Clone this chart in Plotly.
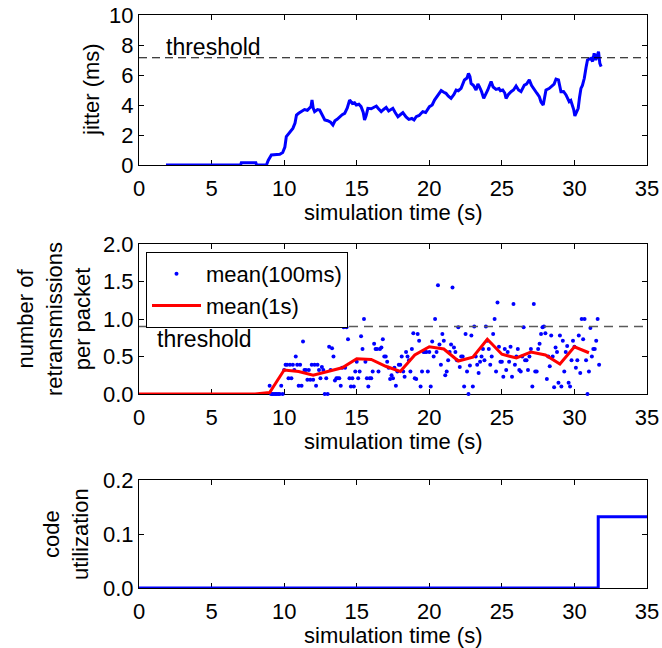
import plotly.graph_objects as go

# ---------------- data ----------------
# jitter (ms) vs simulation time (s)
jitter_t = [1.86, 7.0, 7.05, 8.05, 8.1, 8.78, 8.9, 9.12, 9.5, 9.7, 9.9, 10.05, 10.15, 10.4, 10.6, 10.75,
            10.85, 11.0, 11.2, 11.4, 11.6, 11.76, 11.85, 11.92, 12.0, 12.1, 12.3, 12.45, 12.6, 12.8,
            13.0, 13.2, 13.36, 13.5, 13.65, 13.82, 14.0, 14.17, 14.35, 14.51, 14.7, 14.85, 14.97,
            15.15, 15.3, 15.45, 15.54, 15.65, 15.77, 16.0, 16.2, 16.35, 16.5, 16.69, 16.85, 17.03,
            17.2, 17.35, 17.49, 17.65, 17.84, 18.0, 18.18, 18.4, 18.59, 18.8, 18.95, 19.1, 19.3,
            19.55, 19.75, 20.01, 20.2, 20.36, 20.55, 20.82, 21.0, 21.15, 21.3, 21.5, 21.7, 21.85,
            22.0, 22.19, 22.42, 22.6, 22.7, 22.8, 22.88, 23.05, 23.22, 23.35, 23.45, 23.6, 23.75,
            23.9, 24.03, 24.15, 24.26, 24.4, 24.6, 24.8, 24.9, 25.06, 25.2, 25.29, 25.45, 25.63,
            25.8, 25.98, 26.15, 26.32, 26.45, 26.55, 26.7, 26.89, 27.05, 27.24, 27.4, 27.58, 27.7,
            27.85, 27.95, 28.04, 28.25, 28.5, 28.6, 28.73, 28.9, 29.07, 29.25, 29.42, 29.55, 29.64,
            29.75, 29.87, 29.95, 30.03, 30.15, 30.26, 30.35, 30.45, 30.55, 30.68, 30.8, 30.9, 31.0,
            31.13, 31.25, 31.36, 31.47, 31.55, 31.66, 31.75, 31.84]
jitter_v = [0.0, 0.0, 0.15, 0.15, 0.0, 0.0, 0.3, 0.67, 0.7, 0.72, 0.83, 1.2, 1.89, 2.2, 2.44, 2.8,
            3.33, 3.45, 3.56, 3.7, 3.65, 3.78, 3.9, 4.33, 3.8, 3.56, 3.7, 3.67, 3.4, 3.0,
            2.95, 2.85, 2.67, 2.95, 3.05, 3.22, 3.35, 3.44, 3.8, 4.33, 4.1, 4.15, 4.0,
            4.05, 3.89, 3.5, 3.0, 3.3, 3.78, 3.75, 3.85, 3.93, 3.75, 3.56, 3.7, 3.84,
            3.6, 3.7, 3.78, 3.5, 3.22, 3.35, 3.49, 3.2, 3.04, 3.1, 3.0, 3.22, 3.3,
            3.56, 3.5, 3.89, 4.0, 4.33, 4.6, 4.96, 4.85, 4.78, 4.6, 4.44, 4.7, 5.0,
            4.95, 5.11, 5.67, 5.8, 6.11, 5.9, 5.44, 5.3, 5.0, 5.4, 5.22, 4.9, 4.44,
            4.7, 5.0, 5.3, 5.56, 5.2, 5.04, 5.1, 4.95, 5.0, 4.8, 4.44, 4.7, 4.89,
            5.0, 5.27, 5.0, 4.89, 5.1, 5.33, 5.4, 5.67, 5.3, 5.0, 4.8, 4.56, 4.2,
            4.0, 4.5, 5.0, 5.1, 5.33, 5.4, 5.73, 5.67, 4.89, 4.9, 4.67, 4.4, 4.22,
            4.3, 4.0, 3.7, 3.27, 3.5, 3.78, 4.5, 5.11, 5.3, 5.78, 6.5, 7.0, 7.05,
            7.11, 6.9, 7.44, 7.0, 7.3, 7.56, 6.78, 6.56]
jitter_threshold = 7.15

# retransmissions per packet: mean over 100 ms windows, first window at 9.0 s, one every 0.1 s
dots_start = 9.0
dots_step = 0.1
dots_100ms = [
    0.11, 0.0, 0.0, 0.0, 0.0, 0.0, 0.0, 0.0, 0.11, 0.0,          # 9 s
    0.32, 0.39, 0.39, 0.21, 0.39, 0.21, 0.39, 0.32, 0.5, 0.39,   # 10 s
    0.11, 0.39, 0.11, 0.7, 0.32, 0.32, 0.19, 0.32, 0.19, 0.39,   # 11 s
    0.19, 0.39, 0.11, 0.39, 0.32, 0.21, 0.36, 0.32, 0.0, 0.21,   # 12 s
    0.0, 0.63, 0.32, 0.61, 0.5, 0.18, 0.21, 0.21, 0.21, 0.11,    # 13 s
    0.35, 0.89, 0.35, 0.89, 0.73, 0.21, 0.1, 0.21, 0.1, 0.3,     # 14 s
    0.43, 0.21, 0.3, 0.77, 0.6, 1.0, 0.43, 0.21, 0.1, 0.21,      # 15 s
    0.21, 0.3, 0.67, 0.6, 0.6, 0.3, 0.6, 0.62, 0.73, 0.5,        # 16 s
    0.5, 0.43, 0.35, 0.2, 0.25, 0.21, 0.35, 0.11, 0.3, 0.39,     # 17 s
    0.39, 0.5, 0.3, 0.23, 0.56, 0.5, 0.45, 0.3, 0.6, 0.81,       # 18 s
    0.21, 0.2, 0.8, 0.71, 0.1, 0.3, 0.56, 0.56, 0.56, 0.3,       # 19 s
    0.56, 0.1, 0.7, 0.5, 1.0, 0.56, 1.45, 0.66, 0.39, 0.8,       # 20 s
    0.71, 0.25, 0.3, 0.45, 0.56, 0.66, 1.42, 0.62, 0.56, 0.45,   # 21 s
    0.89, 0.36, 0.5, 0.5, 0.1, 0.8, 0.3, 0.0, 0.38, 0.78,        # 22 s
    0.1, 0.9, 0.5, 0.39, 0.28, 0.43, 0.5, 0.6, 0.45, 0.9,        # 23 s
    0.71, 0.6, 0.39, 0.5, 0.8, 1.0, 0.3, 1.22, 0.63, 0.43,       # 24 s
    0.43, 0.23, 0.6, 0.32, 0.56, 0.43, 0.63, 0.23, 1.2, 0.39,    # 25 s
    0.5, 0.6, 0.32, 0.3, 0.5, 0.89, 0.45, 0.45, 0.32, 0.5,       # 26 s
    0.6, 0.1, 1.2, 0.3, 0.3, 0.6, 0.67, 0.8, 0.89, 0.9,          # 27 s
    0.81, 0.2, 0.5, 0.37, 0.78, 0.5, 0.09, 0.62, 0.56, 0.15,     # 28 s
    0.78, 0.1, 0.71, 0.3, 0.56, 0.64, 0.15, 0.1, 0.45, 0.71,     # 29 s
    0.63, 0.35, 0.45, 0.78, 0.28, 1.0, 0.73, 1.0, 0.45, 0.0,     # 30 s
    0.3, 0.88, 0.5, 0.6, 0.6, 0.71, 1.0, 0.39,                   # 31 s
]
dots_t = [round(dots_start + dots_step * i, 1) for i in range(len(dots_100ms))]

mean1s_t = [0, 1, 2, 3, 4, 5, 6, 7, 8, 9, 10, 11, 12, 13, 14, 15, 16, 17, 18, 19, 20,
            21, 22, 23, 24, 25, 26, 27, 28, 29, 30, 31]
mean1s_v = [0, 0, 0, 0, 0, 0, 0, 0, 0, 0.02, 0.32, 0.30, 0.25, 0.30, 0.35, 0.47, 0.46,
            0.37, 0.30, 0.52, 0.63, 0.60, 0.44, 0.49, 0.73, 0.53, 0.48, 0.56, 0.52, 0.40,
            0.63, 0.55]
retrans_threshold = 0.9

# code utilization (step)
util_t = [0, 31.64, 35]
util_v = [0, 0.132, 0.132]

x_ticks = [0, 5, 10, 15, 20, 25, 30, 35]

# ---------------- figure ----------------
FONT = "Liberation Sans, Arial, Helvetica, sans-serif"
TICK_SIZE = 22
TITLE_SIZE = 22
BLUE = "#0000ff"
RED = "#ff0000"

fig = go.Figure()

fig.add_trace(go.Scatter(x=jitter_t, y=jitter_v, mode="lines",
                         line=dict(color=BLUE, width=3), showlegend=False,
                         xaxis="x", yaxis="y"))

fig.add_trace(go.Scatter(x=dots_t, y=dots_100ms, mode="markers", name="mean(100ms)",
                         marker=dict(color=BLUE, size=4), cliponaxis=False,
                         xaxis="x2", yaxis="y2"))
fig.add_trace(go.Scatter(x=mean1s_t, y=mean1s_v, mode="lines", name="mean(1s)",
                         line=dict(color=RED, width=3),
                         xaxis="x2", yaxis="y2"))

fig.add_trace(go.Scatter(x=util_t, y=util_v, mode="lines", line_shape="hv",
                         line=dict(color=BLUE, width=3), showlegend=False,
                         xaxis="x3", yaxis="y3"))

W, H = 662, 648
ml, mr, mt, mb = 139, 15, 15, 60
ph = H - mt - mb


def dom(top_px, bot_px):
    return [(H - mb - bot_px) / ph, (H - mb - top_px) / ph]


axis_common = dict(showline=True, linecolor="black", linewidth=1, mirror="ticks",
                   ticks="inside", ticklen=5, tickwidth=1, tickcolor="black",
                   showgrid=False, zeroline=False, layer="below traces",
                   tickfont=dict(family=FONT, size=TICK_SIZE, color="black"))

xaxis_common = dict(axis_common, range=[0, 35], tickvals=x_ticks, ticklabelstandoff=4)

fig.update_layout(
    width=W, height=H, autosize=False,
    margin=dict(l=ml, r=mr, t=mt, b=mb, autoexpand=False),
    paper_bgcolor="white", plot_bgcolor="white",
    font=dict(family=FONT, size=TITLE_SIZE, color="black"),
    xaxis=dict(xaxis_common, anchor="y"),
    yaxis=dict(axis_common, domain=dom(15, 165), range=[0, 10], tickvals=[0, 2, 4, 6, 8, 10],
               anchor="x"),
    xaxis2=dict(xaxis_common, anchor="y2"),
    yaxis2=dict(axis_common, domain=dom(244, 394), range=[0, 2.0],
                tickvals=[0, 0.5, 1.0, 1.5, 2.0], tickformat=".1f", anchor="x2"),
    xaxis3=dict(xaxis_common, anchor="y3"),
    yaxis3=dict(axis_common, domain=dom(480, 588), range=[0, 0.2],
                tickvals=[0, 0.1, 0.2], tickformat=".1f", anchor="x3"),
    legend=dict(x=(146 - 139) / 508, y=(H - mb - 252) / ph, xanchor="left", yanchor="top",
                bgcolor="white", bordercolor="black", borderwidth=1,
                font=dict(family=FONT, size=22, color="black"),
                itemwidth=49, tracegroupgap=0),
)

# threshold lines
fig.add_shape(type="line", xref="x domain", yref="y", x0=0, x1=1,
              y0=jitter_threshold, y1=jitter_threshold,
              line=dict(color="black", width=1, dash="8px,5px"))
fig.add_shape(type="line", xref="x2 domain", yref="y2", x0=0, x1=1,
              y0=retrans_threshold, y1=retrans_threshold,
              line=dict(color="rgb(90,90,90)", width=1.5, dash="9px,6px"))

fig.add_annotation(text="threshold", xref="x", yref="y", x=1.72, y=7.85,
                   xanchor="left", yanchor="middle", showarrow=False,
                   font=dict(family=FONT, size=23, color="black"))
fig.add_annotation(text="threshold", xref="x2", yref="y2", x=1.1, y=0.74,
                   xanchor="left", yanchor="middle", showarrow=False,
                   font=dict(family=FONT, size=23, color="black"))

# axis titles
for ax in ["", "2", "3"]:
    fig.add_annotation(text="simulation time (s)", xref=f"x{ax} domain", yref=f"y{ax} domain",
                       x=0.5, y=0, xanchor="center", yanchor="middle", yshift=-47,
                       showarrow=False, font=dict(family=FONT, size=TITLE_SIZE, color="black"))

fig.add_annotation(text="jitter (ms)", xref="x domain", yref="y domain", x=0, y=0.5,
                   xanchor="center", yanchor="middle", xshift=-48, textangle=-90,
                   showarrow=False, font=dict(family=FONT, size=TITLE_SIZE, color="black"))
fig.add_annotation(text="number of<br>retransmissions<br>per packet", xref="x2 domain",
                   yref="y2 domain", x=0, y=0.5, xanchor="center", yanchor="middle",
                   xshift=-85, textangle=-90, showarrow=False,
                   font=dict(family=FONT, size=TITLE_SIZE, color="black"))
fig.add_annotation(text="code<br>utilization", xref="x3 domain", yref="y3 domain",
                   x=0, y=0.5, xanchor="center", yanchor="middle", xshift=-73,
                   textangle=-90, showarrow=False,
                   font=dict(family=FONT, size=TITLE_SIZE, color="black"))

fig.write_html(
    "out.html",
    config={"responsive": False, "displayModeBar": False},
    post_script="document.body.style.margin='0px';document.body.style.overflow='hidden';"
                "document.documentElement.style.overflow='hidden';",
)
